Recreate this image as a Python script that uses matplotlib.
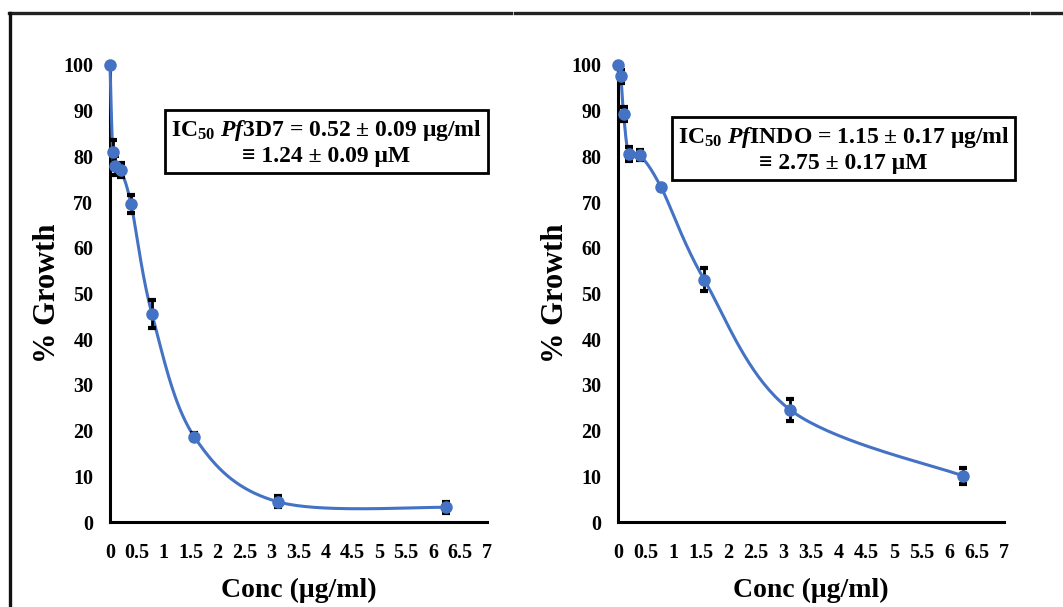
import numpy as np
import matplotlib.pyplot as plt
from matplotlib.lines import Line2D

# concentrations (ug/ml), serial dilution
conc = [0, 0.049, 0.098, 0.195, 0.39, 0.78, 1.5625, 3.125, 6.25]

# % growth, Pf3D7
growth_3d7 = [100, 81.0, 78.0, 77.0, 69.6, 45.5, 18.7, 4.4, 3.2]
err_3d7 = [0, 2.5, 2.0, 1.5, 2.0, 3.0, 0.8, 1.2, 1.2]

# % growth, PfINDO
growth_indo = [100, 97.5, 89.3, 80.5, 80.3, 73.2, 53.0, 24.5, 10.1]
err_indo = [0, 1.5, 1.5, 1.5, 1.0, 0.5, 2.5, 2.5, 1.8]

xticks = [0, 0.5, 1, 1.5, 2, 2.5, 3, 3.5, 4, 4.5, 5, 5.5, 6, 6.5, 7]
yticks = [0, 10, 20, 30, 40, 50, 60, 70, 80, 90, 100]

labels_3d7 = "IC$_{50}$ $\\mathit{Pf}$3D7 = 0.52 ± 0.09 μg/ml\n≡ 1.24 ± 0.09 μM"
labels_indo = "IC$_{50}$ $\\mathit{Pf}$INDO = 1.15 ± 0.17 μg/ml\n≡ 2.75 ± 0.17 μM"

BLUE = "#4472C4"

plt.rcParams['font.family'] = ['Liberation Serif', 'DejaVu Serif']
plt.rcParams['font.weight'] = 'bold'
plt.rcParams['mathtext.fontset'] = 'custom'
plt.rcParams['mathtext.rm'] = 'Liberation Serif:bold'
plt.rcParams['mathtext.it'] = 'Liberation Serif:bold:italic'
plt.rcParams['mathtext.bf'] = 'Liberation Serif:bold'


def smooth_curve(ax, x, y, n=40):
    # Excel-like smoothed line: Bezier segments built in screen space
    pts = ax.transData.transform(np.column_stack([x, y]))
    out = []
    m = len(pts)
    for i in range(m - 1):
        p0 = pts[max(i - 1, 0)]
        p1 = pts[i]
        p2 = pts[i + 1]
        p3 = pts[min(i + 2, m - 1)]
        c1 = p1 + (p2 - p0) / 6.0
        c2 = p2 - (p3 - p1) / 6.0
        t = np.linspace(0, 1, n)[:, None]
        seg = ((1 - t) ** 3) * p1 + 3 * ((1 - t) ** 2) * t * c1 + 3 * (1 - t) * t ** 2 * c2 + t ** 3 * p2
        out.append(seg)
    out = np.vstack(out)
    return ax.transData.inverted().transform(out)


def draw_panel(ax, y, err, text, text_x, text_y):
    ax.set_xlim(0, 7)
    ax.set_ylim(0, 100)
    curve = smooth_curve(ax, conc, y)
    ax.plot(curve[:, 0], curve[:, 1], color=BLUE, lw=2.2, zorder=3, clip_on=False)
    ax.errorbar(conc, y, yerr=err, fmt='none', ecolor='black', elinewidth=2,
                capsize=3, capthick=3, zorder=4, clip_on=False)
    ax.plot(conc, y, 'o', color=BLUE, ms=8, zorder=5, clip_on=False)

    ax.set_xticks(xticks)
    ax.set_xticklabels([f"{v:g}" for v in xticks])
    ax.set_yticks(yticks)
    ax.tick_params(axis='x', length=0, labelsize=14.5, pad=15)
    ax.tick_params(axis='y', length=0, labelsize=14.5, pad=12)
    for lab in ax.get_xticklabels() + ax.get_yticklabels():
        lab.set_fontweight('bold')
    for s in ['top', 'right']:
        ax.spines[s].set_visible(False)
    for s in ['left', 'bottom']:
        ax.spines[s].set_linewidth(2.2)
        ax.spines[s].set_color('black')
    ax.set_xlabel("Conc (μg/ml)", fontsize=20, fontweight='bold', labelpad=11)
    ax.set_ylabel("% Growth", fontsize=22, fontweight='bold', labelpad=1)

    ax.text(text_x, text_y, text, transform=ax.transAxes, ha='center', va='center',
            fontsize=17, fontweight='bold', linespacing=1.2, zorder=6,
            bbox=dict(boxstyle='square,pad=0.25', fc='white', ec='black', lw=2))


fig = plt.figure(figsize=(10.63, 6.07), dpi=100)
ax1 = fig.add_axes([0.1035, 0.14, 0.3545, 0.753])
ax2 = fig.add_axes([0.5815, 0.14, 0.3630, 0.753])

draw_panel(ax1, growth_3d7, err_3d7, labels_3d7, 0.574, 0.831)
draw_panel(ax2, growth_indo, err_indo, labels_indo, 0.584, 0.815)

# outer frame lines of the original figure
ytop = 1 - 13 / 607
fig.add_artist(Line2D([9 / 1063, 511 / 1063], [ytop, ytop], color='#222222', lw=2.4))
fig.add_artist(Line2D([515 / 1063, 1028 / 1063], [ytop, ytop], color='#222222', lw=2.4))
fig.add_artist(Line2D([1032 / 1063, 1.0], [ytop, ytop], color='#222222', lw=2.4))
fig.add_artist(Line2D([10 / 1063, 10 / 1063], [0, ytop], color='#111111', lw=2.4))

fig.savefig("out.png", dpi=100)
